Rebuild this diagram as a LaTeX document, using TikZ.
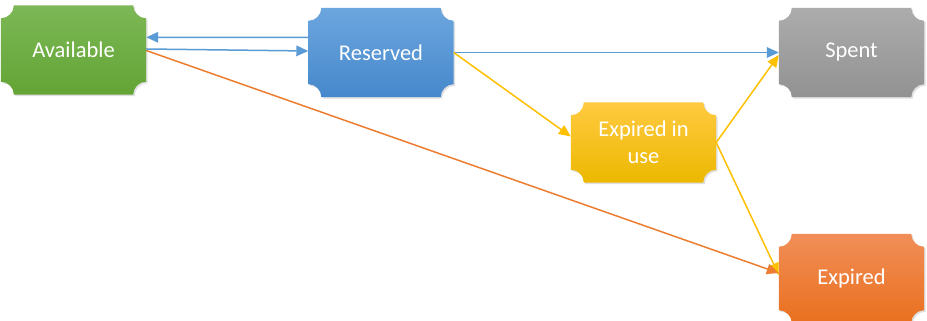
\documentclass[tikz,border=0pt]{standalone}
\usepackage{fontspec}
\setmainfont{Carlito}
\usetikzlibrary{arrows.meta,calc,shadows,backgrounds}
\definecolor{lineblue}{RGB}{91,155,213}
\definecolor{lineyellow}{RGB}{255,192,0}
\definecolor{lineorange}{RGB}{237,125,49}
\definecolor{gtop}{RGB}{124,184,86}
\definecolor{gbot}{RGB}{99,164,53}
\definecolor{btop}{RGB}{108,166,222}
\definecolor{bbot}{RGB}{70,136,204}
\definecolor{ytop}{RGB}{255,202,64}
\definecolor{ybot}{RGB}{236,184,0}
\definecolor{stop}{RGB}{172,172,172}
\definecolor{sbot}{RGB}{146,146,146}
\definecolor{otop}{RGB}{241,142,88}
\definecolor{obot}{RGB}{233,112,30}
\tikzset{
  state/.style={minimum width=145pt, minimum height=89pt, inner sep=0pt, text=white,
    font=\fontsize{22.5}{27}\selectfont, align=center},
  conn/.style={line width=1.5pt, -{Triangle[length=12pt,width=10.5pt]}},
}
\def\pr{13pt}
\newcommand\plaque[3]{%
  \path[top color=#2, bottom color=#3,
    drop shadow={opacity=0.25,shadow xshift=1.5pt,shadow yshift=-1.5pt}]
    let \p1=(#1.south west), \p2=(#1.north east) in
    (\x1+\pr,\y1) -- (\x2-\pr,\y1) arc[start angle=180,end angle=90,radius=\pr]
    -- (\x2,\y2-\pr) arc[start angle=270,end angle=180,radius=\pr]
    -- (\x1+\pr,\y2) arc[start angle=0,end angle=-90,radius=\pr]
    -- (\x1,\y1+\pr) arc[start angle=90,end angle=0,radius=\pr] -- cycle;}
\begin{document}
\begin{tikzpicture}[x=1pt,y=1pt]
\useasboundingbox (0,0) rectangle (927,321);
\node[state] (avail) at (73.5,271) {Available};
\node[state] (res) at (381,268.5) {Reserved};
\node[state] (spent) at (851.5,268.5) {Spent};
\node[state, minimum height=80pt] (eiu) at (643.5,178.5) {Expired in\\use};
\node[state] (exp) at (851.5,42.5) {Expired};
\begin{scope}[on background layer]
  \fill[white] (0,0) rectangle (927,321);
  \plaque{avail}{gtop}{gbot}
  \plaque{res}{btop}{bbot}
  \plaque{spent}{stop}{sbot}
  \plaque{eiu}{ytop}{ybot}
  \plaque{exp}{otop}{obot}
\end{scope}
\draw[conn,lineblue] ($(res.west)+(0,15)$) -- ($(avail.east)+(0,12.7)$);
\draw[conn,lineblue] ($(avail.east)+(0,1)$) -- ($(res.west)+(0,1.5)$);
\draw[conn,lineblue] (res.east) -- (spent.west);
\draw[conn,lineyellow] (res.east) -- ($(eiu.west)+(0,6)$);
\draw[conn,lineyellow] (eiu.east) -- ($(spent.west)+(0,-2.5)$);
\draw[conn,lineyellow] (eiu.east) -- ($(exp.west)+(0,3.5)$);
\draw[conn,lineorange] ($(avail.east)+(0,-0.5)$) -- ($(exp.west)+(0,5.5)$);
\end{tikzpicture}
\end{document}
